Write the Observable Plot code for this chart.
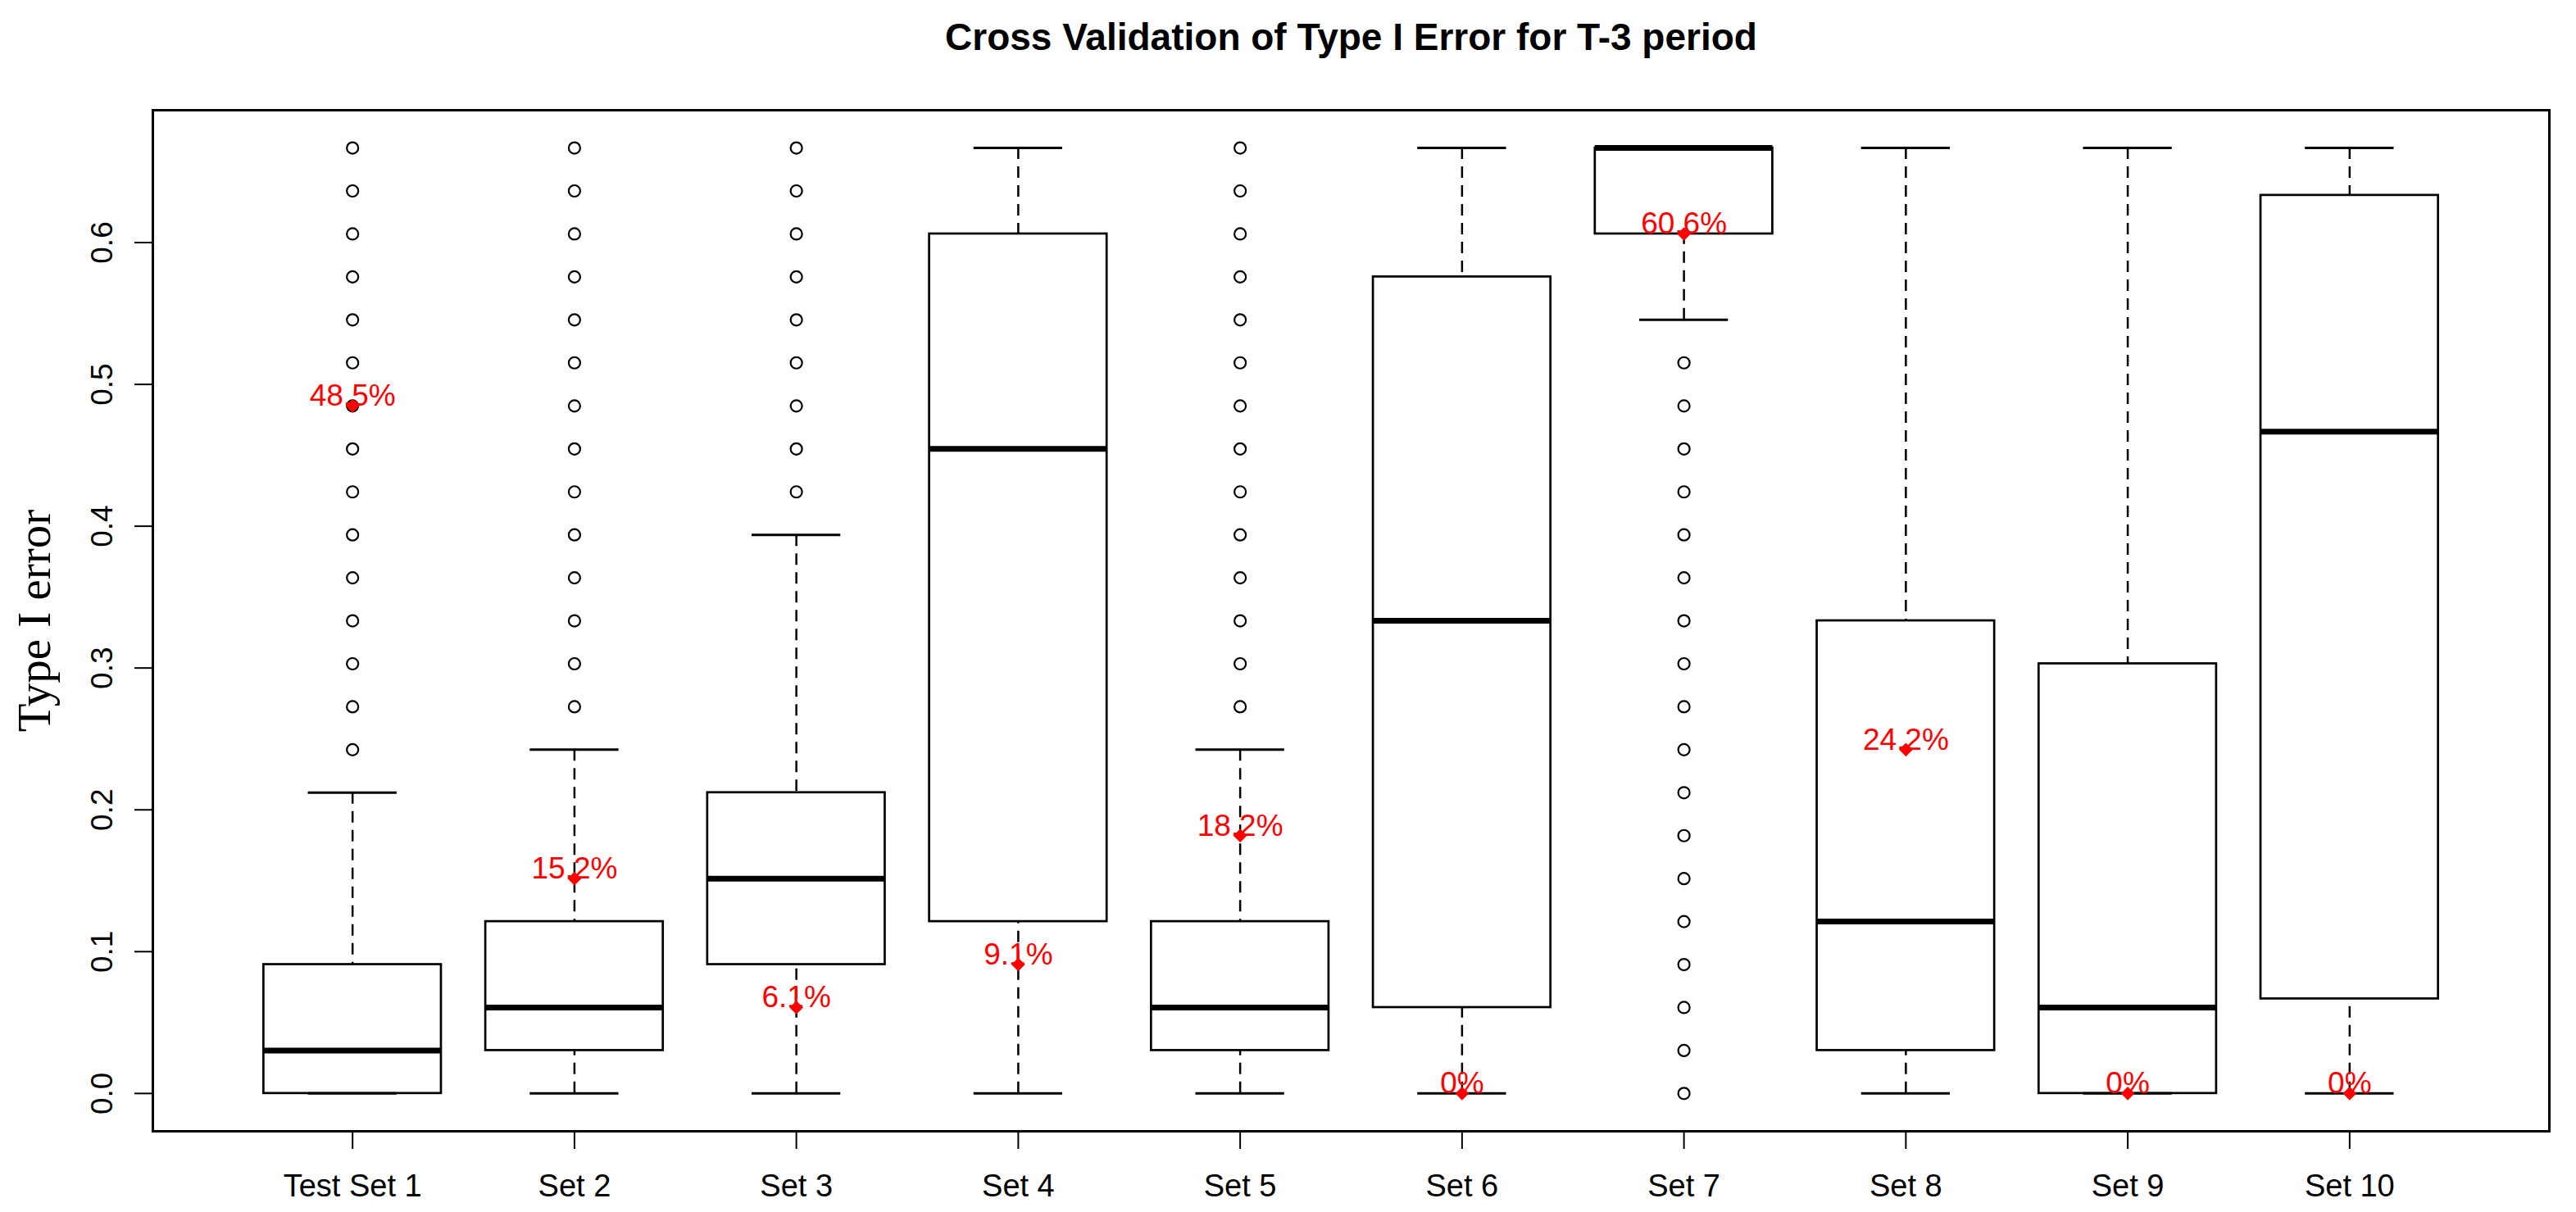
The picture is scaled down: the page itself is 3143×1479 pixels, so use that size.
<!DOCTYPE html>
<html>
<head>
<meta charset="utf-8">
<script src="https://cdn.jsdelivr.net/npm/d3@7"></script>
<script src="https://cdn.jsdelivr.net/npm/@observablehq/plot@0.6"></script>
<style>
  html, body { margin: 0; padding: 0; background: #ffffff; }
  #chart svg { display: block; }
</style>
</head>
<body>
<div id="chart"></div>
<script>
const chartTitle = "Cross Validation of Type I Error for T-3 period";
const yAxisTitle = "Type I error";

const sets = ["Test Set 1", "Set 2", "Set 3", "Set 4", "Set 5", "Set 6", "Set 7", "Set 8", "Set 9", "Set 10"];

const q1          = [0.0000, 0.0303, 0.0909, 0.1212, 0.0303, 0.0606, 0.6061, 0.0303, 0.0000, 0.0667];
const medians     = [0.0303, 0.0606, 0.1515, 0.4545, 0.0606, 0.3333, 0.6667, 0.1212, 0.0606, 0.4667];
const q3          = [0.0909, 0.1212, 0.2121, 0.6061, 0.1212, 0.5758, 0.6667, 0.3333, 0.3030, 0.6333];
const whiskerLow  = [0.0000, 0.0000, 0.0000, 0.0000, 0.0000, 0.0000, 0.5455, 0.0000, 0.0000, 0.0000];
const whiskerHigh = [0.2121, 0.2424, 0.3939, 0.6667, 0.2424, 0.6667, 0.6667, 0.6667, 0.6667, 0.6667];

const markedValues = [0.4848, 0.1515, 0.0606, 0.0909, 0.1818, 0.0000, 0.6061, 0.2424, 0.0000, 0.0000];
const markedLabels = ["48.5%", "15.2%", "6.1%", "9.1%", "18.2%", "0%", "60.6%", "24.2%", "0%", "0%"];

const outliersSet1 = [0.2424, 0.2727, 0.3030, 0.3333, 0.3636, 0.3939, 0.4242, 0.4545, 0.4848, 0.5152, 0.5455, 0.5758, 0.6061, 0.6364, 0.6667];
const outliersSet2 = [0.2727, 0.3030, 0.3333, 0.3636, 0.3939, 0.4242, 0.4545, 0.4848, 0.5152, 0.5455, 0.5758, 0.6061, 0.6364, 0.6667];
const outliersSet3 = [0.4242, 0.4545, 0.4848, 0.5152, 0.5455, 0.5758, 0.6061, 0.6364, 0.6667];
const outliersSet5 = [0.2727, 0.3030, 0.3333, 0.3636, 0.3939, 0.4242, 0.4545, 0.4848, 0.5152, 0.5455, 0.5758, 0.6061, 0.6364, 0.6667];
const outliersSet7 = [0.0000, 0.0303, 0.0606, 0.0909, 0.1212, 0.1515, 0.1818, 0.2121, 0.2424, 0.2727, 0.3030, 0.3333, 0.3636, 0.3939, 0.4242, 0.4545, 0.4848, 0.5152];

const yTicks = [0, 0.1, 0.2, 0.3, 0.4, 0.5, 0.6];
const yTickLabels = ["0.0", "0.1", "0.2", "0.3", "0.4", "0.5", "0.6"];

// Build tables for the library
const boxes = sets.map((name, k) => ({
  i: k + 1, name,
  q1: q1[k], med: medians[k], q3: q3[k], lo: whiskerLow[k], hi: whiskerHigh[k],
  mark: markedValues[k], label: markedLabels[k]
}));
const outlierRows = [];
[[1, outliersSet1], [2, outliersSet2], [3, outliersSet3], [5, outliersSet5], [7, outliersSet7]]
  .forEach(([i, vals]) => vals.forEach(v => outlierRows.push({i, v})));

const sans = "'Liberation Sans', Arial, sans-serif";
const boxHalf = 0.4, stapleHalf = 0.2;

const chart = Plot.plot({
  width: 3143,
  height: 1479,
  marginLeft: 186,
  marginRight: 33,
  marginTop: 134,
  marginBottom: 99,
  style: { fontFamily: sans, fontSize: "37px", background: "#ffffff", color: "#000000" },
  x: { type: "linear", domain: [0.1, 10.9] },
  y: { domain: [-0.02667, 0.69333] },
  marks: [
    Plot.frame({ stroke: "black", strokeWidth: 3 }),
    // whiskers (dashed)
    Plot.ruleX(boxes, { x: "i", y1: "hi", y2: "q3", stroke: "black", strokeWidth: 2.5, strokeDasharray: "14,9" }),
    Plot.ruleX(boxes, { x: "i", y1: "lo", y2: "q1", stroke: "black", strokeWidth: 2.5, strokeDasharray: "14,9" }),
    // staples
    Plot.ruleY(boxes, { y: "hi", x1: d => d.i - stapleHalf, x2: d => d.i + stapleHalf, stroke: "black", strokeWidth: 3 }),
    Plot.ruleY(boxes, { y: "lo", x1: d => d.i - stapleHalf, x2: d => d.i + stapleHalf, stroke: "black", strokeWidth: 3 }),
    // boxes
    Plot.rect(boxes, { x1: d => d.i - boxHalf, x2: d => d.i + boxHalf, y1: "q1", y2: "q3", fill: "none", stroke: "black", strokeWidth: 2.7 }),
    // medians
    Plot.ruleY(boxes, { y: "med", x1: d => d.i - boxHalf, x2: d => d.i + boxHalf, stroke: "black", strokeWidth: 7 }),
    // outliers
    Plot.dot(outlierRows, { x: "i", y: "v", r: 7, stroke: "black", strokeWidth: 2.2, fill: "none" }),
    // red marked values
    Plot.text(boxes, { x: "i", y: "mark", text: "label", fill: "#ff0000", fontSize: 37, textAnchor: "middle", lineAnchor: "bottom" }),
    Plot.dot(boxes, { x: "i", y: "mark", symbol: "diamond2", r: 7.5, fill: "#ff0000", stroke: "none" }),
    // axes
    Plot.axisY({ ticks: yTicks, tickSize: 22, tickFormat: () => "", label: null, stroke: "black", strokeWidth: 2 }),
    Plot.text(yTicks, { y: d => d, text: (d, k) => yTickLabels[k], frameAnchor: "left", dx: -50, rotate: -90, textAnchor: "middle", lineAnchor: "bottom", fontSize: 37, fill: "black" }),
    Plot.axisX({ ticks: boxes.map(d => d.i), tickSize: 22, tickPadding: 31, tickFormat: i => sets[i - 1], label: null, stroke: "black", strokeWidth: 2, fontSize: 38 }),
    // axis title
    Plot.text([yAxisTitle], { text: d => d, frameAnchor: "left", dx: -126, rotate: -90, textAnchor: "middle", lineAnchor: "bottom", fontFamily: "'Liberation Serif', 'Times New Roman', serif", fontSize: 57, fill: "black" }),
    // chart title
    Plot.text([chartTitle], { text: d => d, frameAnchor: "top", dy: -74, textAnchor: "middle", lineAnchor: "bottom", fontWeight: "bold", fontSize: 46, fill: "black" })
  ]
});
document.getElementById("chart").appendChild(chart);
</script>
</body>
</html>
